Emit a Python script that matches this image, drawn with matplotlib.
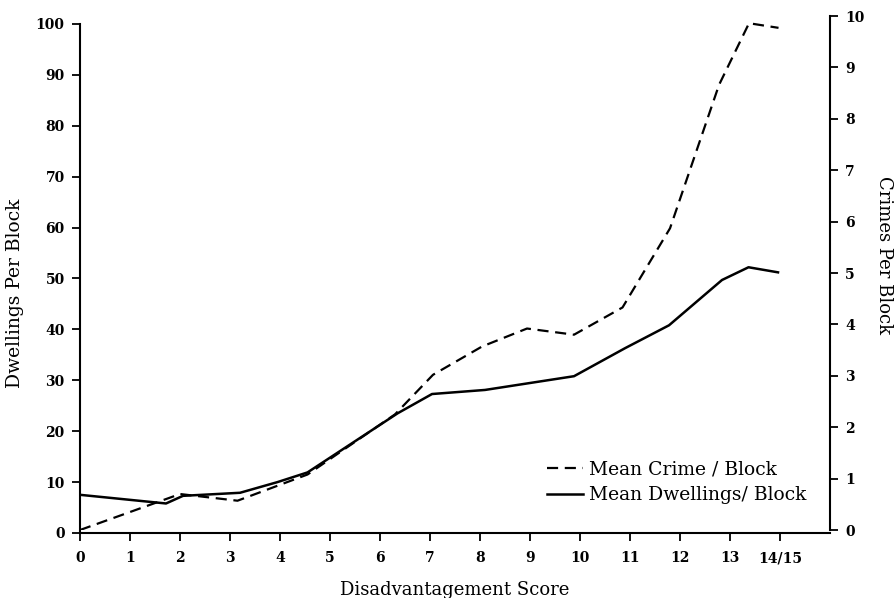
import matplotlib
matplotlib.use('Agg')
import matplotlib.pyplot as plt

# values
score_dw = [0, 1.72, 2.06, 3.2, 3.95, 4.55, 6.35, 7.04, 8.1, 9.88, 10.9, 11.78, 12.84, 13.37, 13.96]
dwellings = [7.5, 5.8, 7.3, 7.9, 10.0, 11.9, 23.5, 27.3, 28.1, 30.8, 36.3, 40.8, 49.7, 52.2, 51.2]

score_cr = [0, 2.0, 3.15, 4.55, 6.3, 7.06, 8.04, 8.94, 9.88, 10.85, 11.8, 12.78, 13.38, 13.97]
crimes = [0, 0.70, 0.57, 1.08, 2.25, 3.02, 3.57, 3.92, 3.80, 4.33, 5.87, 8.66, 9.86, 9.77]

xticks = list(range(15))
xticklabels = [str(i) for i in range(14)] + ['14/15']

plt.rcParams['font.family'] = ['DejaVu Serif']

fig = plt.figure(figsize=(8.95, 5.98), dpi=100)
ax = fig.add_axes([0.0894, 0.1087, 0.8380, 0.8513])
# the right scale in the scan sits a little higher than the left one
ax2 = fig.add_axes([0.0894, 0.1137, 0.8380, 0.8595], sharex=ax)
ax2.patch.set_visible(False)

#dwellings on the left axis, crime on the right
l1, = ax.plot(score_dw, dwellings, color='black', lw=1.8, label='Mean Dwellings/ Block')
l2, = ax2.plot(score_cr, crimes, color='black', lw=1.6, dashes=(5, 3), label='Mean Crime / Block')

ax.set_xlim(0, 15)
ax.set_ylim(0, 100)
ax2.set_ylim(0, 10)
ax.set_xticks(xticks)
ax.set_xticklabels(xticklabels)
ax.set_yticks(range(0, 101, 10))
ax2.set_yticks(range(0, 11))

ax.spines[['top', 'right']].set_visible(False)
ax2.spines[['top', 'left', 'bottom']].set_visible(False)
ax2.yaxis.tick_right()
ax2.yaxis.set_label_position('right')
ax2.tick_params(axis='x', bottom=False, labelbottom=False)

for a in (ax, ax2):
    for s in a.spines.values():
        s.set_linewidth(1.5)
    a.tick_params(direction='out', length=6, width=1.3, labelsize=10, pad=5)
    for t in a.get_xticklabels() + a.get_yticklabels():
        t.set_fontweight('bold')
ax.tick_params(axis='x', pad=7)

ax.set_xlabel('Disadvantagement Score', fontsize=13)
ax.set_ylabel('Dwellings Per Block', fontsize=13.5)
ax2.set_ylabel('Crimes Per Block', fontsize=13, rotation=270)
ax.xaxis.set_label_coords(0.5, -0.095)
ax.yaxis.set_label_coords(-0.075, 0.47)
ax2.yaxis.set_label_coords(1.084, 0.535)

leg = ax.legend([l2, l1], [l2.get_label(), l1.get_label()], loc='lower left',
                bbox_to_anchor=(0.623, 0.056), frameon=False, fontsize=13.5,
                handlelength=1.9, handletextpad=0.35, labelspacing=0.42,
                borderpad=0, borderaxespad=0)

fig.savefig('out.png', dpi=100)
